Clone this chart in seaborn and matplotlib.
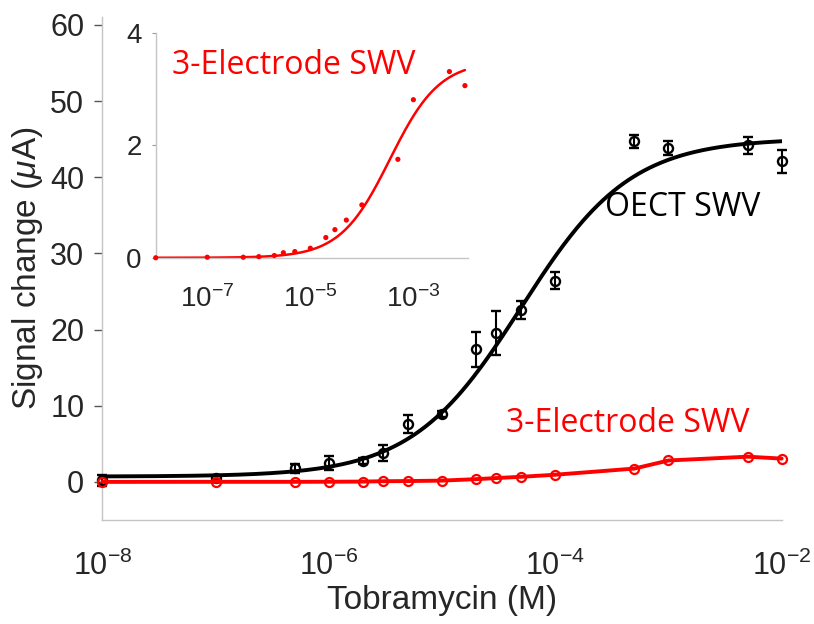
import numpy as np
import pandas as pd
import matplotlib
matplotlib.use('Agg')
import matplotlib.pyplot as plt
import matplotlib.ticker as mticker
import seaborn as sns

# Tobramycin concentrations (M)
conc = [1e-8, 1e-7, 5e-7, 1e-6, 2e-6, 3e-6, 5e-6, 1e-5, 2e-5, 3e-5, 5e-5,
        1e-4, 5e-4, 1e-3, 5e-3, 1e-2]

# OECT SWV signal change (uA) and error
oect = [0.2, 0.5, 1.8, 2.5, 2.7, 3.8, 7.6, 8.9, 17.4, 19.6, 22.6,
        26.4, 44.7, 43.8, 44.2, 42.1]
oect_err = [0.7, 0.3, 0.6, 0.9, 0.4, 1.1, 1.2, 0.4, 2.3, 2.9, 1.2,
            1.1, 0.9, 0.9, 1.1, 1.5]

# 3-electrode SWV signal change (uA)
three = [0.0, 0.01, 0.01, 0.02, 0.04, 0.09, 0.11, 0.17, 0.36, 0.50, 0.67,
         0.94, 1.75, 2.81, 3.31, 3.06]

# Hill fit parameters (bottom, top, K, n)
oect_fit = (0.7, 45.1, 5e-5, 0.9)
three_fit = (0.0, 3.5, 3.5e-4, 0.9)

main_ticks = [1e-8, 1e-6, 1e-4, 1e-2]
inset_ticks = [1e-7, 1e-5, 1e-3]


def hill(x, p):
    b, t, k, n = p
    return b + (t - b) / (1 + (k / x) ** n)


sns.set_style('white')
plt.rcParams['font.family'] = ['Liberation Sans', 'DejaVu Sans']
plt.rcParams['mathtext.fontset'] = 'custom'
plt.rcParams['mathtext.rm'] = 'Liberation Sans'
plt.rcParams['mathtext.it'] = 'Liberation Sans:italic'
plt.rcParams['mathtext.default'] = 'regular'
plt.rcParams['axes.unicode_minus'] = False

txt = '#262626'
spine = '#c4c4c4'

fig = plt.figure(figsize=(8.14, 6.24), dpi=100)
ax = fig.add_axes([0.1257, 0.1667, 0.8346, 0.8056])

xs = np.logspace(-8, -2, 400)
fit_df = pd.DataFrame({'x': xs, 'oect': hill(xs, oect_fit), 'three': hill(xs, three_fit)})
df = pd.DataFrame({'conc': conc, 'oect': oect, 'err': oect_err, 'three': three})

sns.lineplot(data=fit_df, x='x', y='oect', ax=ax, color='black', lw=2.8)
eb = ax.errorbar(df['conc'], df['oect'], yerr=df['err'], fmt='o', mfc='none',
                 mec='black', ecolor='black', ms=6.5, mew=1.7, elinewidth=1.5,
                 capsize=3.5, capthick=1.5, zorder=3)
for art in eb.get_children():
    art.set_clip_on(False)
sns.lineplot(data=df, x='conc', y='three', ax=ax, color='red', lw=2.8,
             marker='o', mfc='none', mec='red', ms=6.5, mew=1.6, zorder=4,
             clip_on=False)

ax.set_xscale('log')
ax.set_xlim(1e-8, 1e-2)
ax.set_ylim(-5, 61)
ax.set_yticks(range(0, 61, 10))
ax.set_xticks(main_ticks)
ax.xaxis.set_minor_locator(mticker.LogLocator(base=10, subs=np.arange(1, 10), numticks=50))
ax.xaxis.set_minor_formatter(mticker.NullFormatter())
ax.tick_params(axis='x', which='major', direction='in', length=5, width=1, color='#555555',
               labelsize=22, labelcolor=txt, pad=22)
ax.tick_params(axis='x', which='minor', direction='in', length=3, width=0.8, color='#777777')
ax.tick_params(axis='y', direction='out', length=6, width=1, color='#555555',
               labelsize=22, labelcolor=txt, left=True, pad=7)
for s in ['top', 'right']:
    ax.spines[s].set_visible(False)
for s in ['left', 'bottom']:
    ax.spines[s].set_color(spine)
    ax.spines[s].set_linewidth(1)
ax.set_xlabel('Tobramycin (M)', fontsize=24, color=txt, labelpad=2)
ax.set_ylabel(r'Signal change ($\mathit{\mu}$A)', fontsize=24, color=txt, labelpad=4)

ax.text(683 / 814, 1 - 208 / 624, 'OECT SWV', transform=fig.transFigure,
        ha='center', va='center', fontsize=23, color='black', family='Open Sans')
ax.text(628 / 814, 1 - 423 / 624, '3-Electrode SWV', transform=fig.transFigure,
        ha='center', va='center', fontsize=23, color='red', family='Open Sans')

# inset
ins = fig.add_axes([0.1913, 0.586, 0.3837, 0.3615])
ins.set_facecolor('white')
sns.lineplot(data=fit_df, x='x', y='three', ax=ins, color='red', lw=1.8)
sns.scatterplot(data=df, x='conc', y='three', ax=ins, color='red', s=14,
                edgecolor='none', zorder=3, clip_on=False)
ins.set_xscale('log')
ins.set_xlim(1e-8, 1.15e-2)
ins.set_ylim(-0.01, 4)
ins.set_yticks([0, 2, 4])
ins.set_xticks(inset_ticks)
ins.xaxis.set_minor_locator(mticker.LogLocator(base=10, subs=np.arange(1, 10), numticks=50))
ins.xaxis.set_minor_formatter(mticker.NullFormatter())
ins.tick_params(axis='x', which='both', direction='in', length=2, width=0.7, color='#999999',
                labelsize=20, labelcolor=txt, pad=19)
ins.tick_params(axis='y', direction='out', length=3, width=0.8, color='#999999',
                labelsize=20, labelcolor=txt, left=True, pad=7)
for s in ['top', 'right']:
    ins.spines[s].set_visible(False)
for s in ['left', 'bottom']:
    ins.spines[s].set_color(spine)
    ins.spines[s].set_linewidth(1)
ins.set_xlabel('')
ins.set_ylabel('')
ins.text(293.7 / 814, 1 - 66 / 624, '3-Electrode SWV', transform=fig.transFigure,
         ha='center', va='center', fontsize=23, color='red', family='Open Sans')

fig.savefig('out.png', dpi=100)
